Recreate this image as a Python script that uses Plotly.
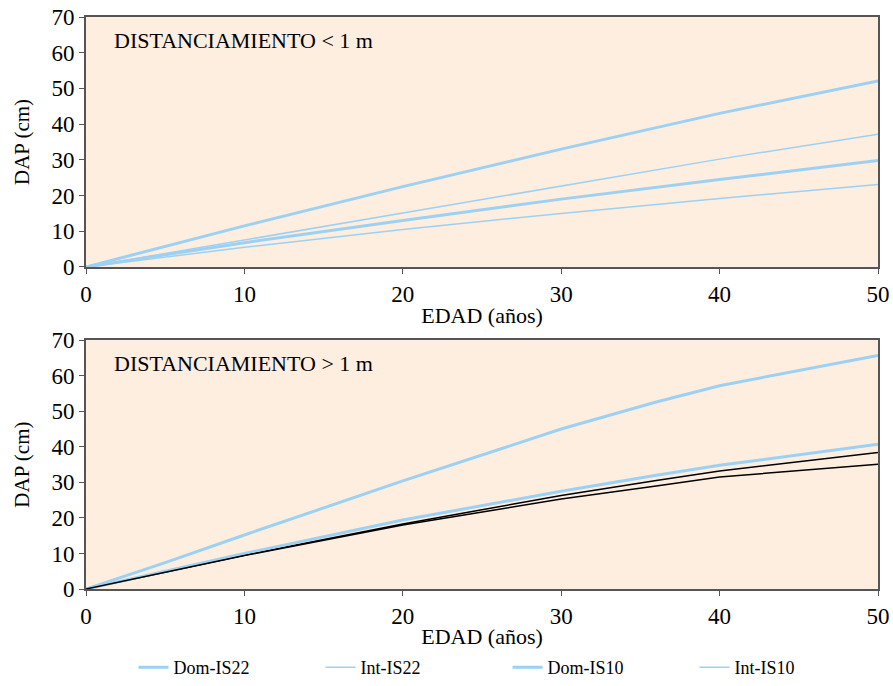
import plotly.graph_objects as go
from plotly.subplots import make_subplots

# ---- data ----
ages_top = [0, 10, 20, 30, 40, 50]
dom_is22_top = [0, 11.5, 22.5, 33.0, 43.0, 52.1]
int_is22_top = [0, 7.6, 15.2, 22.8, 30.2, 37.2]
dom_is10_top = [0, 6.8, 13.0, 19.0, 24.5, 29.8]
int_is10_top = [0, 5.5, 10.5, 15.0, 19.2, 23.1]

ages_bot = [0, 5, 10, 20, 30, 36, 40, 50]
dom_is22_bot = [0, 7.4, 15.2, 30.4, 45.0, 52.6, 57.2, 65.7]
dom_is10_bot = [0, 5.0, 10.0, 19.4, 27.5, 32.0, 34.8, 40.7]
int_is22_bot = [0, 4.8, 9.5, 18.3, 26.3, 30.5, 33.2, 38.4]
int_is10_bot = [0, 4.8, 9.4, 18.0, 25.3, 29.0, 31.5, 35.1]

series_names = ["Dom-IS22", "Int-IS22", "Dom-IS10", "Int-IS10"]
x_ticks = [0, 10, 20, 30, 40, 50]
y_ticks = [0, 10, 20, 30, 40, 50, 60, 70]
panel_labels = ["DISTANCIAMIENTO < 1 m", "DISTANCIAMIENTO > 1 m"]

BLUE = "#9DD1F3"
BG = "#FDEEE0"
AXC = "#555555"
FONT = "Liberation Serif, Times New Roman, serif"

fig = make_subplots(rows=2, cols=1, vertical_spacing=0.0)
fig.update_layout(
    yaxis=dict(domain=[0.563, 1.0]),
    yaxis2=dict(domain=[0.0, 0.435]),
)

top_vals = [dom_is22_top, int_is22_top, dom_is10_top, int_is10_top]
widths = [3, 1.5, 3, 1.5]
for name, vals, w in zip(series_names, top_vals, widths):
    fig.add_trace(go.Scatter(x=ages_top, y=vals, mode="lines", name=name,
                             line=dict(color=BLUE, width=w), showlegend=True),
                  row=1, col=1)

bot_vals = [dom_is22_bot, int_is22_bot, dom_is10_bot, int_is10_bot]
bot_colors = [BLUE, "#000000", BLUE, "#000000"]
for name, vals, w, c in zip(series_names, bot_vals, widths, bot_colors):
    fig.add_trace(go.Scatter(x=ages_bot, y=vals, mode="lines", name=name,
                             line=dict(color=c, width=w), showlegend=False),
                  row=2, col=1)

axis_common = dict(showline=True, linecolor=AXC, linewidth=2, mirror=True,
                   ticks="outside", ticklen=5, tickwidth=1, tickcolor=AXC,
                   showgrid=False, zeroline=False, automargin=False,
                   tickfont=dict(family=FONT, size=23, color="black"))

for r in (1, 2):
    fig.update_xaxes(range=[0, 50], tickvals=x_ticks, **axis_common,
                     title=dict(text="EDAD (años)", standoff=2,
                                font=dict(family=FONT, size=22, color="black")),
                     row=r, col=1)
    fig.update_yaxes(range=[0, 70], tickvals=y_ticks, **axis_common,
                     title=dict(text="DAP (cm)", standoff=16,
                                font=dict(family=FONT, size=21, color="black")),
                     row=r, col=1)

fig.add_annotation(text=panel_labels[0], xref="x domain", yref="y domain",
                   x=0.033, y=0.965, xanchor="left", yanchor="top", showarrow=False,
                   font=dict(family=FONT, size=22, color="black"))
fig.add_annotation(text=panel_labels[1], xref="x2 domain", yref="y2 domain",
                   x=0.033, y=0.965, xanchor="left", yanchor="top", showarrow=False,
                   font=dict(family=FONT, size=22, color="black"))

fig.update_layout(
    width=893, height=686,
    margin=dict(l=86, r=15, t=17, b=97),
    plot_bgcolor=BG, paper_bgcolor="white",
    legend=dict(orientation="h", x=0.06, y=-0.015, xanchor="left", yanchor="bottom",
                yref="container",
                entrywidth=142, font=dict(family=FONT, size=18, color="black"),
                bgcolor="rgba(0,0,0,0)"),
)

fig.write_html("out.html", post_script="document.body.style.margin='0';",
               config={"displayModeBar": False})
